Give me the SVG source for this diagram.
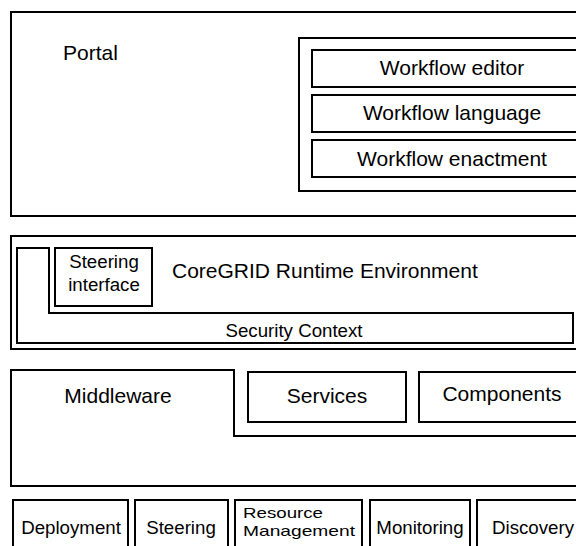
<svg xmlns="http://www.w3.org/2000/svg" width="576" height="546" viewBox="0 0 576 546">
<style>
.b{fill:none;stroke:#000;stroke-width:2}
.t{font-family:"Liberation Sans",Arial,sans-serif;font-size:21px;fill:#000}
.s{font-family:"Liberation Sans",Arial,sans-serif;font-size:18.7px;fill:#000}
.r{font-family:"Liberation Sans",Arial,sans-serif;font-size:15px;fill:#000}
.c{text-anchor:middle}
</style>
<rect width="576" height="546" fill="#fff"/>
<g id="portal">
<rect class="b" x="11" y="12" width="600" height="204"/>
<text class="t" x="63" y="60">Portal</text>
</g>
<g id="workflow">
<rect class="b" x="299" y="38" width="300" height="153"/>
</g>
<g id="workflow-editor">
<rect class="b" x="312" y="50" width="300" height="37"/>
<text class="t c" x="452" y="75">Workflow editor</text>
</g>
<g id="workflow-language">
<rect class="b" x="312" y="95" width="300" height="37"/>
<text class="t c" x="452" y="120">Workflow language</text>
</g>
<g id="workflow-enactment">
<rect class="b" x="312" y="140" width="300" height="37"/>
<text class="t c" x="452" y="166">Workflow enactment</text>
</g>
<g id="runtime">
<rect class="b" x="11" y="236" width="600" height="113"/>
<text class="t" x="172" y="278">CoreGRID Runtime Environment</text>
</g>
<g id="security-context">
<path class="b" d="M17,248 H49 V313 H573 V343 H17 Z"/>
<text class="s c" x="294" y="337">Security Context</text>
</g>
<g id="steering-interface">
<rect class="b" x="55" y="248" width="97" height="58"/>
<text class="s c" x="104" y="268">Steering</text>
<text class="s c" x="104" y="291">interface</text>
</g>
<g id="middleware">
<path class="b" d="M600,486 H11 V370 H234 V436 H600"/>
<text class="t c" x="118" y="403">Middleware</text>
</g>
<g id="services">
<rect class="b" x="248" y="372" width="158" height="50"/>
<text class="t c" x="327" y="403">Services</text>
</g>
<g id="components">
<rect class="b" x="419" y="372" width="200" height="50"/>
<text class="t c" x="502" y="401">Components</text>
</g>
<g id="deployment">
<rect class="b" x="13" y="500" width="115" height="60"/>
<text class="s c" x="71" y="534">Deployment</text>
</g>
<g id="steering">
<rect class="b" x="135" y="500" width="93" height="60"/>
<text class="s c" x="181" y="534">Steering</text>
</g>
<g id="resource-management">
<rect class="b" x="235" y="500" width="127" height="60"/>
<text class="r" x="243" y="518" textLength="80" lengthAdjust="spacingAndGlyphs">Resource</text>
<text class="r" x="243" y="536" textLength="112" lengthAdjust="spacingAndGlyphs">Management</text>
</g>
<g id="monitoring">
<rect class="b" x="370" y="500" width="100" height="60"/>
<text class="s c" x="420" y="534">Monitoring</text>
</g>
<g id="discovery">
<rect class="b" x="477" y="500" width="150" height="60"/>
<text class="s" x="492" y="534">Discovery</text>
</g>
<g id="connectors"/>
</svg>
